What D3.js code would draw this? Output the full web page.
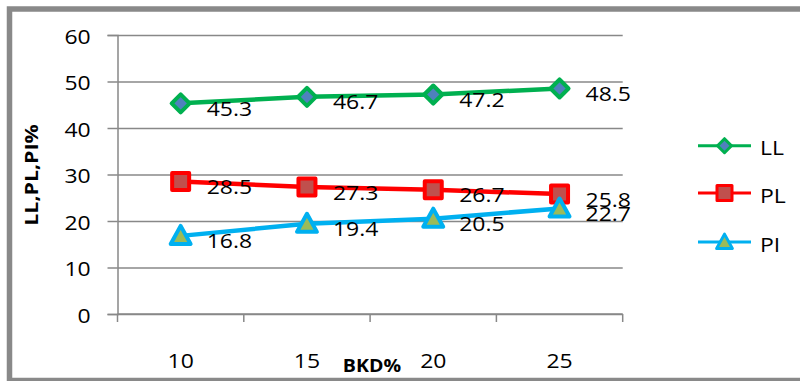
<!DOCTYPE html>
<html>
<head>
<meta charset="utf-8">
<script src="https://cdn.jsdelivr.net/npm/d3@7"></script>
<style>
  html, body { margin: 0; padding: 0; background: #fff; }
  svg { display: block; }
  text { font-family: "Open Sans", "Noto Sans", sans-serif; fill: #000; }
</style>
</head>
<body>
<svg id="chart" width="800" height="381"></svg>
<script>
// BKD% content on the x axis
const categories = ["10", "15", "20", "25"];
// Atterberg limits (%) for each BKD%
const llValues = [45.3, 46.7, 47.2, 48.5];
const plValues = [28.5, 27.3, 26.7, 25.8];
const piValues = [16.8, 19.4, 20.5, 22.7];
const yTicks = [0, 10, 20, 30, 40, 50, 60];
const seriesNames = ["LL", "PL", "PI"];

const series = [
  { name: seriesNames[0], values: llValues, line: "#00B050", fill: "#4F81BD", shape: "diamond" },
  { name: seriesNames[1], values: plValues, line: "#FF0000", fill: "#C0504D", shape: "square" },
  { name: seriesNames[2], values: piValues, line: "#00B0F0", fill: "#9BBB59", shape: "triangle" }
];

const svg = d3.select("#chart");
const SX = 1.12; // horizontal stretch applied to labels

// outer frame
svg.append("rect")
  .attr("x", 9.5).attr("y", 9)
  .attr("width", 800).attr("height", 371.5)
  .attr("fill", "none").attr("stroke", "#898989").attr("stroke-width", 5.5);

const x = d3.scaleBand().domain(categories).range([117.5, 622.7]).padding(0);
const y = d3.scaleLinear().domain([0, 60]).range([314, 35]);

// horizontal gridlines + y axis
const yAxis = svg.append("g")
  .attr("transform", "translate(117.5,0)")
  .call(d3.axisLeft(y).tickValues(yTicks).tickSize(10).tickPadding(0).tickFormat(d3.format("d")));
yAxis.select(".domain").attr("stroke", "#888").attr("stroke-width", 1.5);
yAxis.selectAll(".tick line").attr("stroke", "#888").attr("stroke-width", 1.5);
yAxis.selectAll(".tick")
  .append("line")
  .attr("x1", 0).attr("x2", 622.7 - 117.5)
  .attr("stroke", "#888").attr("stroke-width", 1.5);
yAxis.selectAll(".tick text")
  .attr("x", null).attr("dy", null)
  .attr("transform", `translate(-26.8,8) scale(${SX},1)`)
  .style("font-size", "20.5px").style("font-family", "'Open Sans', sans-serif").attr("fill", "#000");

// x axis with ticks at category boundaries
const xAxis = svg.append("g").attr("transform", "translate(0,314)");
xAxis.append("line")
  .attr("x1", 117.5).attr("x2", 622.7)
  .attr("stroke", "#888").attr("stroke-width", 1.5);
const edges = categories.map(c => x(c)).concat([x(categories[categories.length - 1]) + x.bandwidth()]);
xAxis.selectAll("line.edge").data(edges).join("line")
  .attr("class", "edge")
  .attr("x1", d => d).attr("x2", d => d)
  .attr("y1", 0).attr("y2", 8)
  .attr("stroke", "#888").attr("stroke-width", 1.5);
const xBottom = svg.append("g")
  .attr("transform", "translate(0,314)")
  .call(d3.axisBottom(x).tickSize(0).tickPadding(0));
xBottom.select(".domain").remove();
xBottom.selectAll(".tick text")
  .attr("y", null).attr("dy", null)
  .attr("transform", `translate(0,54) scale(${SX},1)`)
  .style("font-size", "20.5px").style("font-family", "'Open Sans', sans-serif").attr("fill", "#000");

// axis titles
svg.append("text")
  .attr("transform", `translate(372,372) scale(${SX},1)`)
  .attr("text-anchor", "middle")
  .style("font-size", "17.5px").style("font-weight", "bold")
  .text("BKD%");
svg.append("text")
  .attr("transform", `translate(37.5,175) rotate(-90) scale(1.22,1)`)
  .attr("text-anchor", "middle")
  .style("font-size", "17.5px").style("font-weight", "bold")
  .text("LL,PL,PI%");

function markerPath(shape, s) {
  if (shape === "diamond") return `M0,${-s}L${s},0L0,${s}L${-s},0Z`;
  if (shape === "square") return `M${-s},${-s}H${s}V${s}H${-s}Z`;
  return `M0,${-s * 1.05}L${s * 1.05},${s * 0.85}H${-s * 1.05}Z`;
}
const markerSize = { diamond: 9, square: 8.5, triangle: 9.5 };
const legendSize = { diamond: 7, square: 7.5, triangle: 7.5 };

const line = d3.line()
  .x((d, i) => x(categories[i]) + x.bandwidth() / 2)
  .y(d => y(d));

const plot = svg.append("g");
series.forEach(s => {
  const g = plot.append("g");
  g.append("path")
    .datum(s.values)
    .attr("d", line)
    .attr("fill", "none").attr("stroke", s.line).attr("stroke-width", 4.5)
    .attr("stroke-linejoin", "round");
  g.selectAll("path.mk").data(s.values).join("path")
    .attr("class", "mk")
    .attr("transform", (d, i) => `translate(${x(categories[i]) + x.bandwidth() / 2},${y(d)})`)
    .attr("d", markerPath(s.shape, markerSize[s.shape]))
    .attr("fill", s.fill).attr("stroke", s.line).attr("stroke-width", 4)
    .attr("stroke-linejoin", "round");
});

// value labels, drawn on top of all lines
series.forEach(s => {
  plot.append("g").selectAll("text").data(s.values).join("text")
    .attr("transform", (d, i) => `translate(${x(categories[i]) + x.bandwidth() / 2 + 26},${y(d) + 12.5}) scale(${SX},1)`)
    .style("font-size", "20.5px")
    .text(d => d3.format(".1f")(d));
});

// legend
const legendY = [145.7, 193, 242];
const legend = svg.append("g");
series.forEach((s, i) => {
  const g = legend.append("g").attr("transform", `translate(0,${legendY[i]})`);
  g.append("line").attr("x1", 698).attr("x2", 751)
    .attr("stroke", s.line).attr("stroke-width", 3);
  g.append("path")
    .attr("transform", "translate(724.5,0)")
    .attr("d", markerPath(s.shape, legendSize[s.shape]))
    .attr("fill", s.fill).attr("stroke", s.line).attr("stroke-width", 3)
    .attr("stroke-linejoin", "round");
  g.append("text")
    .attr("transform", `translate(760,9.5) scale(${SX},1)`)
    .style("font-size", "20.5px")
    .text(s.name);
});
</script>
</body>
</html>
